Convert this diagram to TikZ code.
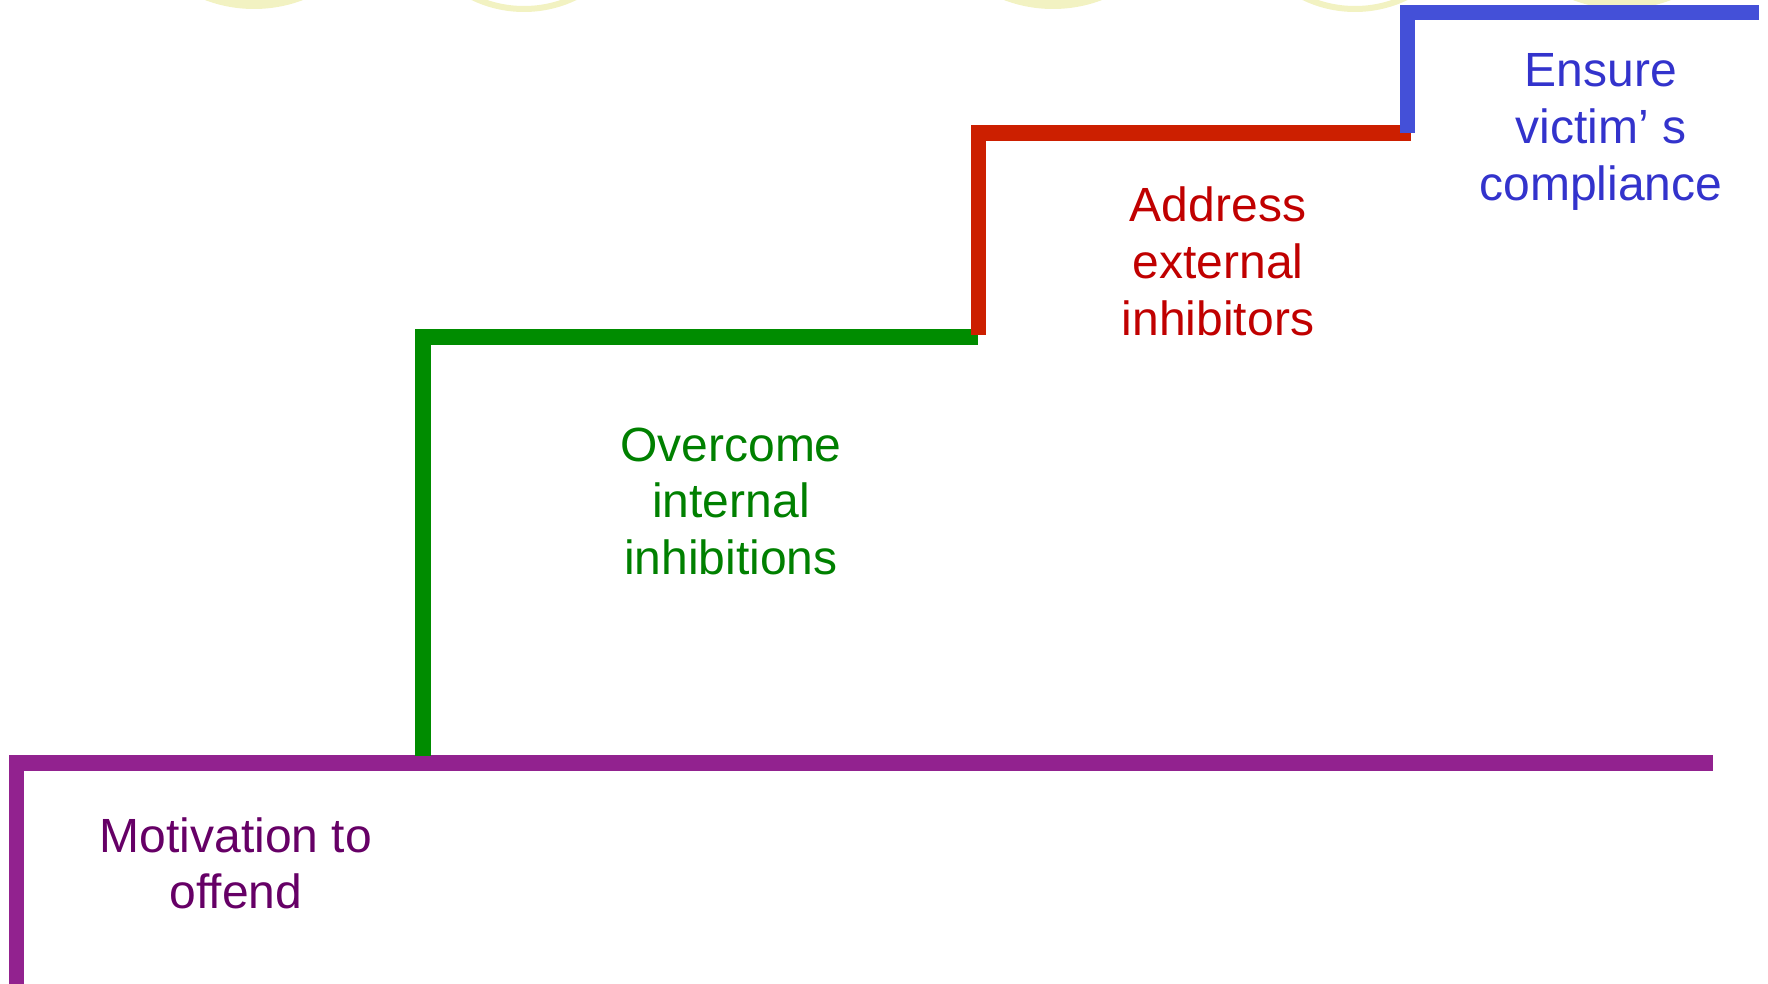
\documentclass[tikz,border=0pt]{standalone}
\usepackage{fontspec}
\setmainfont{Liberation Sans}
\definecolor{circfill}{RGB}{242,242,194}
\definecolor{purpleline}{RGB}{146,34,143}
\definecolor{purpletext}{RGB}{102,0,102}
\definecolor{greenline}{RGB}{0,140,0}
\definecolor{greentext}{RGB}{0,128,0}
\definecolor{redline}{RGB}{204,31,0}
\definecolor{redtext}{RGB}{192,0,0}
\definecolor{blueline}{RGB}{68,80,216}
\definecolor{bluetext}{RGB}{51,51,204}
\newcommand{\mylines}[1]{\begin{tabular}[t]{@{}c@{}}#1\end{tabular}}
\begin{document}
\begin{tikzpicture}[x=0.5pt,y=-0.5pt,
  stepline/.style={line width=7.75pt, line join=miter, line cap=butt},
  lbl/.style={anchor=base, inner sep=0pt, font=\fontsize{24}{28.4}\selectfont},
  disc/.style={fill=circfill},
  ring/.style={draw=circfill, line width=3pt}]
\useasboundingbox (0,0) rectangle (1768,984);
\clip (0,0) rectangle (1768,984);
% pale circles at the top edge
\fill[disc] (254,-129) circle[radius=69pt];
\draw[ring] (524,-109) circle[radius=59pt];
\fill[disc] (1053,-129) circle[radius=69pt];
\draw[ring] (1355,-109) circle[radius=59pt];
\fill[disc] (1622,-129) circle[radius=69pt];
% step corners
\coordinate (p0) at (16.5,1000);
\coordinate (p1) at (16.5,763);
\coordinate (p2) at (1713,763);
\coordinate (g0) at (423,756);
\coordinate (g1) at (423,337);
\coordinate (g2) at (978,337);
\coordinate (r0) at (978.5,335);
\coordinate (r1) at (978.5,133);
\coordinate (r2) at (1411,133);
\coordinate (b0) at (1407.5,133);
\coordinate (b1) at (1407.5,12.5);
\coordinate (b2) at (1759,12.5);
\draw[stepline, purpleline] (p0) -- (p1) -- (p2);
\draw[stepline, greenline] (g0) -- (g1) -- (g2);
\draw[stepline, redline] (r0) -- (r1) -- (r2);
\draw[stepline, blueline] (b0) -- (b1) -- (b2);
% labels
\node[lbl, text=purpletext] (motivation) at (236,852) {\mylines{Motivation to\\offend}};
\node[lbl, text=greentext] (overcome) at (731,461) {\mylines{Overcome\\internal\\inhibitions}};
\node[lbl, text=redtext] (address) at (1218,222) {\mylines{Address\\external\\inhibitors}};
\node[lbl, text=bluetext] (ensure) at (1601,87) {\mylines{Ensure\\victim’ s\\compliance}};
\end{tikzpicture}
\end{document}
